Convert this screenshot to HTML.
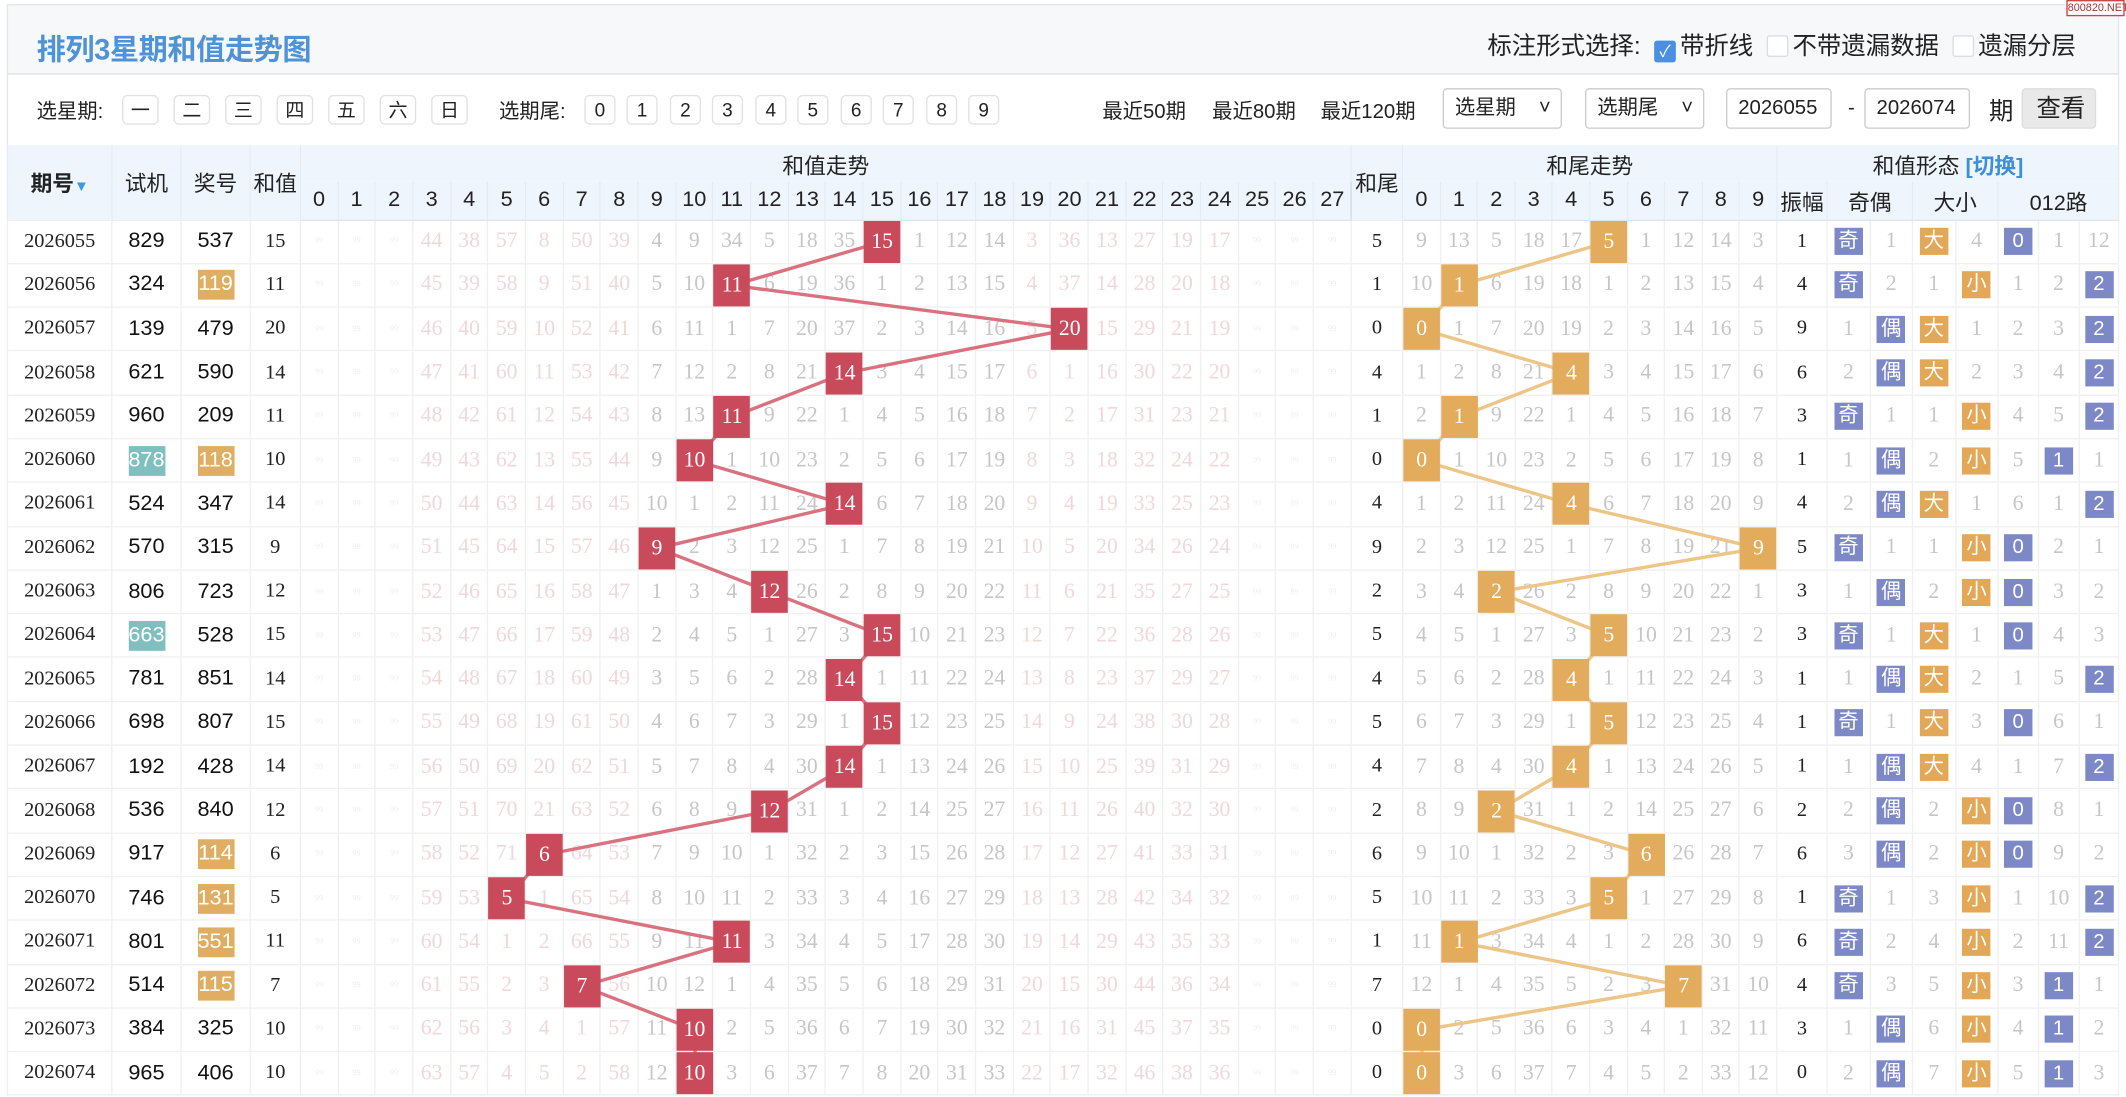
<!DOCTYPE html>
<html><head><meta charset="utf-8">
<style>
*{margin:0;padding:0;box-sizing:border-box}
html,body{width:2126px;height:1097px;overflow:hidden;background:#fff}
#w{position:absolute;left:0;top:0;width:1568px;height:809px;transform:scale(1.35587);transform-origin:0 0;font-family:"Liberation Sans","Noto Sans CJK SC",sans-serif;color:#222}
#hd{position:absolute;left:5px;top:3px;width:1558px;height:52px;background:#f7f8fa;border:1px solid #e4e6ea;border-bottom:1px solid #e0e0e0}
#ttl{position:absolute;left:21px;top:16px;font-size:21.5px;font-weight:bold;color:#4f93d6;letter-spacing:-0.3px}
#opt{position:absolute;left:1091px;top:16px;font-size:18px;color:#222;white-space:nowrap}
.cb{display:inline-block;width:16px;height:16px;border:1px solid #ddd;border-radius:2px;background:#fff;vertical-align:-2px;margin:0 3px 0 10px}
.cb.on{background:#4a8fe0;border-color:#4a8fe0;color:#fff;font-size:12px;line-height:15px;text-align:center}
#wm{position:absolute;left:1524px;top:0;width:43px;height:12px;border:1px solid #c44;color:#a33;font-size:8px;line-height:10px;text-align:center;background:#fff}
#tb{position:absolute;left:5px;top:55px;width:1558px;height:52px;border-left:1px solid #e4e6ea;border-right:1px solid #e4e6ea;font-size:15px}
#tb span{position:absolute;top:16px;white-space:nowrap}
.bt{position:absolute;top:15px;width:27px;height:22px;border:1px solid #e2e2e2;border-radius:4px;text-align:center;line-height:20px;font-size:14px;background:#fff}
.bt.n{width:23px}
.sel{position:absolute;top:10px;height:30px;border:1px solid #ccc;border-radius:3px;font-size:15px;line-height:28px;padding-left:8px;background:#fff}
#tbl{position:absolute;left:5px;top:107px;width:1558px;border-collapse:collapse;table-layout:fixed}
#tbl th{background:#eef5fc;font-weight:normal;font-size:16px;border:1px solid #e3ecf5;border-top:none;border-bottom:none;height:27px;padding:0;white-space:nowrap;overflow:hidden}
#tbl tr.h2 th{height:28px;border-bottom:1px solid #dde6ee}
#tbl td{height:32.3px;text-align:center;border:1px solid #f0f0f0;padding:0;font-size:16px;font-family:"Liberation Serif","Noto Serif CJK SC",serif;color:#c6c6c6;white-space:nowrap}
#tbl td.q{color:#222;font-size:15px}
#tbl td.k{color:#111;font-family:"Liberation Sans","Noto Sans CJK SC",sans-serif;font-size:16px}
#tbl td.s{color:#222;font-size:15px}
#tbl td.z{color:#222;font-size:15px}
#tbl td.a{color:#efd8da}
#tbl td.f{color:#eee;font-size:6px}
#tbl td.L{border-left:1px solid #cfcfcf}
tr.sep td{border-bottom:1px solid #c9c9c9}
b.r,b.o{display:block;position:relative;z-index:3;width:27px;height:31px;line-height:31px;margin:0 auto;color:#fff;font-weight:normal}
b.r{background:#c84a5b}
b.o{background:#e3ab5c}
i.p,i.y{display:inline-block;width:21px;height:20px;line-height:20px;color:#fff;font-style:normal;font-family:"Liberation Sans","Noto Sans CJK SC",sans-serif;font-size:15px}
i.p{background:#7d88c6}i.y{background:#e3a857}
span.hy{display:inline-block;width:27px;height:22px;line-height:22px;background:#dfae63;color:#fff}
span.ht{display:inline-block;width:27px;height:22px;line-height:22px;background:#7fbfbf;color:#fff}
svg{position:absolute;left:0;top:0;z-index:1;pointer-events:none}
</style></head><body><div id="w">
<div id="hd"><div id="ttl">排列3星期和值走势图</div>
<div id="opt">标注形式选择:<span class="cb on">✓</span>带折线<span class="cb"></span>不带遗漏数据<span class="cb"></span>遗漏分层</div></div>
<div id="wm">800820.NET</div>
<div id="tb">
<span style="left:21px">选星期:</span>
<div class="bt" style="left:84px">一</div><div class="bt" style="left:122px">二</div><div class="bt" style="left:160px">三</div><div class="bt" style="left:198px">四</div><div class="bt" style="left:236px">五</div><div class="bt" style="left:274px">六</div><div class="bt" style="left:312px">日</div>
<span style="left:362px">选期尾:</span>
<div class="bt n" style="left:425px">0</div><div class="bt n" style="left:456px">1</div><div class="bt n" style="left:488px">2</div><div class="bt n" style="left:519px">3</div><div class="bt n" style="left:551px">4</div><div class="bt n" style="left:582px">5</div><div class="bt n" style="left:614px">6</div><div class="bt n" style="left:645px">7</div><div class="bt n" style="left:677px">8</div><div class="bt n" style="left:708px">9</div>
<span style="left:807px">最近50期</span><span style="left:888px">最近80期</span><span style="left:968px">最近120期</span>
<div class="sel" style="left:1058px;width:88px">选星期 <span style="left:70px;top:0">˅</span></div>
<div class="sel" style="left:1163px;width:88px">选期尾 <span style="left:70px;top:0">˅</span></div>
<div class="sel" style="left:1267px;width:78px">2026055</div>
<span style="left:1357px">-</span>
<div class="sel" style="left:1369px;width:78px">2026074</div>
<span style="left:1461px;font-size:18px;top:13px">期</span>
<div class="sel" style="left:1485px;width:55px;background:#e9e9e9;border-color:#ddd;font-size:18px;padding-left:10px">查看</div>
</div>
<table id="tbl">
<colgroup><col style="width:77px"><col style="width:51px"><col style="width:51px"><col style="width:37px">
<col span="28" style="width:27.68px"><col style="width:38px"><col span="10" style="width:27.6px"><col style="width:37px"><col span="2" style="width:31.5px"><col span="2" style="width:31.5px"><col span="3" style="width:29.8px"></colgroup>
<tr><th rowspan="2" style="font-weight:bold">期号<span style="color:#3d9be0;font-size:11px">▼</span></th><th rowspan="2">试机</th><th rowspan="2">奖号</th><th rowspan="2">和值</th><th colspan="28">和值走势</th><th rowspan="2" style="border-left:1px solid #cfdbe6">和尾</th><th colspan="10" style="border-left:1px solid #cfdbe6">和尾走势</th><th colspan="8" style="border-left:1px solid #cfdbe6">和值形态 <span style="color:#3d8fd8;font-weight:bold">[切换]</span></th></tr>
<tr class="h2"><th>0</th><th>1</th><th>2</th><th>3</th><th>4</th><th>5</th><th>6</th><th>7</th><th>8</th><th style="border-left:1px solid #cfdbe6">9</th><th>10</th><th>11</th><th>12</th><th>13</th><th>14</th><th>15</th><th>16</th><th>17</th><th>18</th><th style="border-left:1px solid #cfdbe6">19</th><th>20</th><th>21</th><th>22</th><th>23</th><th>24</th><th>25</th><th>26</th><th>27</th><th style="border-left:1px solid #cfdbe6">0</th><th>1</th><th>2</th><th>3</th><th>4</th><th>5</th><th>6</th><th>7</th><th>8</th><th>9</th><th style="border-left:1px solid #cfdbe6">振幅</th><th colspan="2">奇偶</th><th colspan="2">大小</th><th colspan="3">012路</th></tr>
<tr><td class="q">2026055</td><td class="k">829</td><td class="k">537</td><td class="s">15</td><td class="f">99</td><td class="f">99</td><td class="f">99</td><td class="a">44</td><td class="a">38</td><td class="a">57</td><td class="a">8</td><td class="a">50</td><td class="a">39</td><td class="L">4</td><td>9</td><td>34</td><td>5</td><td>18</td><td>35</td><td><b class="r">15</b></td><td>1</td><td>12</td><td>14</td><td class="a L">3</td><td class="a">36</td><td class="a">13</td><td class="a">27</td><td class="a">19</td><td class="a">17</td><td class="f">99</td><td class="f">99</td><td class="f">99</td><td class="z L">5</td><td class="L">9</td><td>13</td><td>5</td><td>18</td><td>17</td><td><b class="o">5</b></td><td>1</td><td>12</td><td>14</td><td>3</td><td class="z L">1</td><td><i class="p">奇</i></td><td>1</td><td><i class="y">大</i></td><td>4</td><td><i class="p">0</i></td><td>1</td><td>12</td></tr>
<tr><td class="q">2026056</td><td class="k">324</td><td class="k"><span class="hy">119</span></td><td class="s">11</td><td class="f">99</td><td class="f">99</td><td class="f">99</td><td class="a">45</td><td class="a">39</td><td class="a">58</td><td class="a">9</td><td class="a">51</td><td class="a">40</td><td class="L">5</td><td>10</td><td><b class="r">11</b></td><td>6</td><td>19</td><td>36</td><td>1</td><td>2</td><td>13</td><td>15</td><td class="a L">4</td><td class="a">37</td><td class="a">14</td><td class="a">28</td><td class="a">20</td><td class="a">18</td><td class="f">99</td><td class="f">99</td><td class="f">99</td><td class="z L">1</td><td class="L">10</td><td><b class="o">1</b></td><td>6</td><td>19</td><td>18</td><td>1</td><td>2</td><td>13</td><td>15</td><td>4</td><td class="z L">4</td><td><i class="p">奇</i></td><td>2</td><td>1</td><td><i class="y">小</i></td><td>1</td><td>2</td><td><i class="p">2</i></td></tr>
<tr><td class="q">2026057</td><td class="k">139</td><td class="k">479</td><td class="s">20</td><td class="f">99</td><td class="f">99</td><td class="f">99</td><td class="a">46</td><td class="a">40</td><td class="a">59</td><td class="a">10</td><td class="a">52</td><td class="a">41</td><td class="L">6</td><td>11</td><td>1</td><td>7</td><td>20</td><td>37</td><td>2</td><td>3</td><td>14</td><td>16</td><td class="a L">5</td><td><b class="r">20</b></td><td class="a">15</td><td class="a">29</td><td class="a">21</td><td class="a">19</td><td class="f">99</td><td class="f">99</td><td class="f">99</td><td class="z L">0</td><td class="L"><b class="o">0</b></td><td>1</td><td>7</td><td>20</td><td>19</td><td>2</td><td>3</td><td>14</td><td>16</td><td>5</td><td class="z L">9</td><td>1</td><td><i class="p">偶</i></td><td><i class="y">大</i></td><td>1</td><td>2</td><td>3</td><td><i class="p">2</i></td></tr>
<tr><td class="q">2026058</td><td class="k">621</td><td class="k">590</td><td class="s">14</td><td class="f">99</td><td class="f">99</td><td class="f">99</td><td class="a">47</td><td class="a">41</td><td class="a">60</td><td class="a">11</td><td class="a">53</td><td class="a">42</td><td class="L">7</td><td>12</td><td>2</td><td>8</td><td>21</td><td><b class="r">14</b></td><td>3</td><td>4</td><td>15</td><td>17</td><td class="a L">6</td><td class="a">1</td><td class="a">16</td><td class="a">30</td><td class="a">22</td><td class="a">20</td><td class="f">99</td><td class="f">99</td><td class="f">99</td><td class="z L">4</td><td class="L">1</td><td>2</td><td>8</td><td>21</td><td><b class="o">4</b></td><td>3</td><td>4</td><td>15</td><td>17</td><td>6</td><td class="z L">6</td><td>2</td><td><i class="p">偶</i></td><td><i class="y">大</i></td><td>2</td><td>3</td><td>4</td><td><i class="p">2</i></td></tr>
<tr class="sep"><td class="q">2026059</td><td class="k">960</td><td class="k">209</td><td class="s">11</td><td class="f">99</td><td class="f">99</td><td class="f">99</td><td class="a">48</td><td class="a">42</td><td class="a">61</td><td class="a">12</td><td class="a">54</td><td class="a">43</td><td class="L">8</td><td>13</td><td><b class="r">11</b></td><td>9</td><td>22</td><td>1</td><td>4</td><td>5</td><td>16</td><td>18</td><td class="a L">7</td><td class="a">2</td><td class="a">17</td><td class="a">31</td><td class="a">23</td><td class="a">21</td><td class="f">99</td><td class="f">99</td><td class="f">99</td><td class="z L">1</td><td class="L">2</td><td><b class="o">1</b></td><td>9</td><td>22</td><td>1</td><td>4</td><td>5</td><td>16</td><td>18</td><td>7</td><td class="z L">3</td><td><i class="p">奇</i></td><td>1</td><td>1</td><td><i class="y">小</i></td><td>4</td><td>5</td><td><i class="p">2</i></td></tr>
<tr><td class="q">2026060</td><td class="k"><span class="ht">878</span></td><td class="k"><span class="hy">118</span></td><td class="s">10</td><td class="f">99</td><td class="f">99</td><td class="f">99</td><td class="a">49</td><td class="a">43</td><td class="a">62</td><td class="a">13</td><td class="a">55</td><td class="a">44</td><td class="L">9</td><td><b class="r">10</b></td><td>1</td><td>10</td><td>23</td><td>2</td><td>5</td><td>6</td><td>17</td><td>19</td><td class="a L">8</td><td class="a">3</td><td class="a">18</td><td class="a">32</td><td class="a">24</td><td class="a">22</td><td class="f">99</td><td class="f">99</td><td class="f">99</td><td class="z L">0</td><td class="L"><b class="o">0</b></td><td>1</td><td>10</td><td>23</td><td>2</td><td>5</td><td>6</td><td>17</td><td>19</td><td>8</td><td class="z L">1</td><td>1</td><td><i class="p">偶</i></td><td>2</td><td><i class="y">小</i></td><td>5</td><td><i class="p">1</i></td><td>1</td></tr>
<tr><td class="q">2026061</td><td class="k">524</td><td class="k">347</td><td class="s">14</td><td class="f">99</td><td class="f">99</td><td class="f">99</td><td class="a">50</td><td class="a">44</td><td class="a">63</td><td class="a">14</td><td class="a">56</td><td class="a">45</td><td class="L">10</td><td>1</td><td>2</td><td>11</td><td>24</td><td><b class="r">14</b></td><td>6</td><td>7</td><td>18</td><td>20</td><td class="a L">9</td><td class="a">4</td><td class="a">19</td><td class="a">33</td><td class="a">25</td><td class="a">23</td><td class="f">99</td><td class="f">99</td><td class="f">99</td><td class="z L">4</td><td class="L">1</td><td>2</td><td>11</td><td>24</td><td><b class="o">4</b></td><td>6</td><td>7</td><td>18</td><td>20</td><td>9</td><td class="z L">4</td><td>2</td><td><i class="p">偶</i></td><td><i class="y">大</i></td><td>1</td><td>6</td><td>1</td><td><i class="p">2</i></td></tr>
<tr><td class="q">2026062</td><td class="k">570</td><td class="k">315</td><td class="s">9</td><td class="f">99</td><td class="f">99</td><td class="f">99</td><td class="a">51</td><td class="a">45</td><td class="a">64</td><td class="a">15</td><td class="a">57</td><td class="a">46</td><td class="L"><b class="r">9</b></td><td>2</td><td>3</td><td>12</td><td>25</td><td>1</td><td>7</td><td>8</td><td>19</td><td>21</td><td class="a L">10</td><td class="a">5</td><td class="a">20</td><td class="a">34</td><td class="a">26</td><td class="a">24</td><td class="f">99</td><td class="f">99</td><td class="f">99</td><td class="z L">9</td><td class="L">2</td><td>3</td><td>12</td><td>25</td><td>1</td><td>7</td><td>8</td><td>19</td><td>21</td><td><b class="o">9</b></td><td class="z L">5</td><td><i class="p">奇</i></td><td>1</td><td>1</td><td><i class="y">小</i></td><td><i class="p">0</i></td><td>2</td><td>1</td></tr>
<tr><td class="q">2026063</td><td class="k">806</td><td class="k">723</td><td class="s">12</td><td class="f">99</td><td class="f">99</td><td class="f">99</td><td class="a">52</td><td class="a">46</td><td class="a">65</td><td class="a">16</td><td class="a">58</td><td class="a">47</td><td class="L">1</td><td>3</td><td>4</td><td><b class="r">12</b></td><td>26</td><td>2</td><td>8</td><td>9</td><td>20</td><td>22</td><td class="a L">11</td><td class="a">6</td><td class="a">21</td><td class="a">35</td><td class="a">27</td><td class="a">25</td><td class="f">99</td><td class="f">99</td><td class="f">99</td><td class="z L">2</td><td class="L">3</td><td>4</td><td><b class="o">2</b></td><td>26</td><td>2</td><td>8</td><td>9</td><td>20</td><td>22</td><td>1</td><td class="z L">3</td><td>1</td><td><i class="p">偶</i></td><td>2</td><td><i class="y">小</i></td><td><i class="p">0</i></td><td>3</td><td>2</td></tr>
<tr class="sep"><td class="q">2026064</td><td class="k"><span class="ht">663</span></td><td class="k">528</td><td class="s">15</td><td class="f">99</td><td class="f">99</td><td class="f">99</td><td class="a">53</td><td class="a">47</td><td class="a">66</td><td class="a">17</td><td class="a">59</td><td class="a">48</td><td class="L">2</td><td>4</td><td>5</td><td>1</td><td>27</td><td>3</td><td><b class="r">15</b></td><td>10</td><td>21</td><td>23</td><td class="a L">12</td><td class="a">7</td><td class="a">22</td><td class="a">36</td><td class="a">28</td><td class="a">26</td><td class="f">99</td><td class="f">99</td><td class="f">99</td><td class="z L">5</td><td class="L">4</td><td>5</td><td>1</td><td>27</td><td>3</td><td><b class="o">5</b></td><td>10</td><td>21</td><td>23</td><td>2</td><td class="z L">3</td><td><i class="p">奇</i></td><td>1</td><td><i class="y">大</i></td><td>1</td><td><i class="p">0</i></td><td>4</td><td>3</td></tr>
<tr><td class="q">2026065</td><td class="k">781</td><td class="k">851</td><td class="s">14</td><td class="f">99</td><td class="f">99</td><td class="f">99</td><td class="a">54</td><td class="a">48</td><td class="a">67</td><td class="a">18</td><td class="a">60</td><td class="a">49</td><td class="L">3</td><td>5</td><td>6</td><td>2</td><td>28</td><td><b class="r">14</b></td><td>1</td><td>11</td><td>22</td><td>24</td><td class="a L">13</td><td class="a">8</td><td class="a">23</td><td class="a">37</td><td class="a">29</td><td class="a">27</td><td class="f">99</td><td class="f">99</td><td class="f">99</td><td class="z L">4</td><td class="L">5</td><td>6</td><td>2</td><td>28</td><td><b class="o">4</b></td><td>1</td><td>11</td><td>22</td><td>24</td><td>3</td><td class="z L">1</td><td>1</td><td><i class="p">偶</i></td><td><i class="y">大</i></td><td>2</td><td>1</td><td>5</td><td><i class="p">2</i></td></tr>
<tr><td class="q">2026066</td><td class="k">698</td><td class="k">807</td><td class="s">15</td><td class="f">99</td><td class="f">99</td><td class="f">99</td><td class="a">55</td><td class="a">49</td><td class="a">68</td><td class="a">19</td><td class="a">61</td><td class="a">50</td><td class="L">4</td><td>6</td><td>7</td><td>3</td><td>29</td><td>1</td><td><b class="r">15</b></td><td>12</td><td>23</td><td>25</td><td class="a L">14</td><td class="a">9</td><td class="a">24</td><td class="a">38</td><td class="a">30</td><td class="a">28</td><td class="f">99</td><td class="f">99</td><td class="f">99</td><td class="z L">5</td><td class="L">6</td><td>7</td><td>3</td><td>29</td><td>1</td><td><b class="o">5</b></td><td>12</td><td>23</td><td>25</td><td>4</td><td class="z L">1</td><td><i class="p">奇</i></td><td>1</td><td><i class="y">大</i></td><td>3</td><td><i class="p">0</i></td><td>6</td><td>1</td></tr>
<tr><td class="q">2026067</td><td class="k">192</td><td class="k">428</td><td class="s">14</td><td class="f">99</td><td class="f">99</td><td class="f">99</td><td class="a">56</td><td class="a">50</td><td class="a">69</td><td class="a">20</td><td class="a">62</td><td class="a">51</td><td class="L">5</td><td>7</td><td>8</td><td>4</td><td>30</td><td><b class="r">14</b></td><td>1</td><td>13</td><td>24</td><td>26</td><td class="a L">15</td><td class="a">10</td><td class="a">25</td><td class="a">39</td><td class="a">31</td><td class="a">29</td><td class="f">99</td><td class="f">99</td><td class="f">99</td><td class="z L">4</td><td class="L">7</td><td>8</td><td>4</td><td>30</td><td><b class="o">4</b></td><td>1</td><td>13</td><td>24</td><td>26</td><td>5</td><td class="z L">1</td><td>1</td><td><i class="p">偶</i></td><td><i class="y">大</i></td><td>4</td><td>1</td><td>7</td><td><i class="p">2</i></td></tr>
<tr><td class="q">2026068</td><td class="k">536</td><td class="k">840</td><td class="s">12</td><td class="f">99</td><td class="f">99</td><td class="f">99</td><td class="a">57</td><td class="a">51</td><td class="a">70</td><td class="a">21</td><td class="a">63</td><td class="a">52</td><td class="L">6</td><td>8</td><td>9</td><td><b class="r">12</b></td><td>31</td><td>1</td><td>2</td><td>14</td><td>25</td><td>27</td><td class="a L">16</td><td class="a">11</td><td class="a">26</td><td class="a">40</td><td class="a">32</td><td class="a">30</td><td class="f">99</td><td class="f">99</td><td class="f">99</td><td class="z L">2</td><td class="L">8</td><td>9</td><td><b class="o">2</b></td><td>31</td><td>1</td><td>2</td><td>14</td><td>25</td><td>27</td><td>6</td><td class="z L">2</td><td>2</td><td><i class="p">偶</i></td><td>2</td><td><i class="y">小</i></td><td><i class="p">0</i></td><td>8</td><td>1</td></tr>
<tr class="sep"><td class="q">2026069</td><td class="k">917</td><td class="k"><span class="hy">114</span></td><td class="s">6</td><td class="f">99</td><td class="f">99</td><td class="f">99</td><td class="a">58</td><td class="a">52</td><td class="a">71</td><td><b class="r">6</b></td><td class="a">64</td><td class="a">53</td><td class="L">7</td><td>9</td><td>10</td><td>1</td><td>32</td><td>2</td><td>3</td><td>15</td><td>26</td><td>28</td><td class="a L">17</td><td class="a">12</td><td class="a">27</td><td class="a">41</td><td class="a">33</td><td class="a">31</td><td class="f">99</td><td class="f">99</td><td class="f">99</td><td class="z L">6</td><td class="L">9</td><td>10</td><td>1</td><td>32</td><td>2</td><td>3</td><td><b class="o">6</b></td><td>26</td><td>28</td><td>7</td><td class="z L">6</td><td>3</td><td><i class="p">偶</i></td><td>2</td><td><i class="y">小</i></td><td><i class="p">0</i></td><td>9</td><td>2</td></tr>
<tr><td class="q">2026070</td><td class="k">746</td><td class="k"><span class="hy">131</span></td><td class="s">5</td><td class="f">99</td><td class="f">99</td><td class="f">99</td><td class="a">59</td><td class="a">53</td><td><b class="r">5</b></td><td class="a">1</td><td class="a">65</td><td class="a">54</td><td class="L">8</td><td>10</td><td>11</td><td>2</td><td>33</td><td>3</td><td>4</td><td>16</td><td>27</td><td>29</td><td class="a L">18</td><td class="a">13</td><td class="a">28</td><td class="a">42</td><td class="a">34</td><td class="a">32</td><td class="f">99</td><td class="f">99</td><td class="f">99</td><td class="z L">5</td><td class="L">10</td><td>11</td><td>2</td><td>33</td><td>3</td><td><b class="o">5</b></td><td>1</td><td>27</td><td>29</td><td>8</td><td class="z L">1</td><td><i class="p">奇</i></td><td>1</td><td>3</td><td><i class="y">小</i></td><td>1</td><td>10</td><td><i class="p">2</i></td></tr>
<tr><td class="q">2026071</td><td class="k">801</td><td class="k"><span class="hy">551</span></td><td class="s">11</td><td class="f">99</td><td class="f">99</td><td class="f">99</td><td class="a">60</td><td class="a">54</td><td class="a">1</td><td class="a">2</td><td class="a">66</td><td class="a">55</td><td class="L">9</td><td>11</td><td><b class="r">11</b></td><td>3</td><td>34</td><td>4</td><td>5</td><td>17</td><td>28</td><td>30</td><td class="a L">19</td><td class="a">14</td><td class="a">29</td><td class="a">43</td><td class="a">35</td><td class="a">33</td><td class="f">99</td><td class="f">99</td><td class="f">99</td><td class="z L">1</td><td class="L">11</td><td><b class="o">1</b></td><td>3</td><td>34</td><td>4</td><td>1</td><td>2</td><td>28</td><td>30</td><td>9</td><td class="z L">6</td><td><i class="p">奇</i></td><td>2</td><td>4</td><td><i class="y">小</i></td><td>2</td><td>11</td><td><i class="p">2</i></td></tr>
<tr><td class="q">2026072</td><td class="k">514</td><td class="k"><span class="hy">115</span></td><td class="s">7</td><td class="f">99</td><td class="f">99</td><td class="f">99</td><td class="a">61</td><td class="a">55</td><td class="a">2</td><td class="a">3</td><td><b class="r">7</b></td><td class="a">56</td><td class="L">10</td><td>12</td><td>1</td><td>4</td><td>35</td><td>5</td><td>6</td><td>18</td><td>29</td><td>31</td><td class="a L">20</td><td class="a">15</td><td class="a">30</td><td class="a">44</td><td class="a">36</td><td class="a">34</td><td class="f">99</td><td class="f">99</td><td class="f">99</td><td class="z L">7</td><td class="L">12</td><td>1</td><td>4</td><td>35</td><td>5</td><td>2</td><td>3</td><td><b class="o">7</b></td><td>31</td><td>10</td><td class="z L">4</td><td><i class="p">奇</i></td><td>3</td><td>5</td><td><i class="y">小</i></td><td>3</td><td><i class="p">1</i></td><td>1</td></tr>
<tr><td class="q">2026073</td><td class="k">384</td><td class="k">325</td><td class="s">10</td><td class="f">99</td><td class="f">99</td><td class="f">99</td><td class="a">62</td><td class="a">56</td><td class="a">3</td><td class="a">4</td><td class="a">1</td><td class="a">57</td><td class="L">11</td><td><b class="r">10</b></td><td>2</td><td>5</td><td>36</td><td>6</td><td>7</td><td>19</td><td>30</td><td>32</td><td class="a L">21</td><td class="a">16</td><td class="a">31</td><td class="a">45</td><td class="a">37</td><td class="a">35</td><td class="f">99</td><td class="f">99</td><td class="f">99</td><td class="z L">0</td><td class="L"><b class="o">0</b></td><td>2</td><td>5</td><td>36</td><td>6</td><td>3</td><td>4</td><td>1</td><td>32</td><td>11</td><td class="z L">3</td><td>1</td><td><i class="p">偶</i></td><td>6</td><td><i class="y">小</i></td><td>4</td><td><i class="p">1</i></td><td>2</td></tr>
<tr><td class="q">2026074</td><td class="k">965</td><td class="k">406</td><td class="s">10</td><td class="f">99</td><td class="f">99</td><td class="f">99</td><td class="a">63</td><td class="a">57</td><td class="a">4</td><td class="a">5</td><td class="a">2</td><td class="a">58</td><td class="L">12</td><td><b class="r">10</b></td><td>3</td><td>6</td><td>37</td><td>7</td><td>8</td><td>20</td><td>31</td><td>33</td><td class="a L">22</td><td class="a">17</td><td class="a">32</td><td class="a">46</td><td class="a">38</td><td class="a">36</td><td class="f">99</td><td class="f">99</td><td class="f">99</td><td class="z L">0</td><td class="L"><b class="o">0</b></td><td>3</td><td>6</td><td>37</td><td>7</td><td>4</td><td>5</td><td>2</td><td>33</td><td>12</td><td class="z L">0</td><td>2</td><td><i class="p">偶</i></td><td>7</td><td><i class="y">小</i></td><td>5</td><td><i class="p">1</i></td><td>3</td></tr>
</table>
<svg width="1568" height="809" viewBox="0 0 1568 809">
<polyline fill="none" stroke="#d9717f" stroke-width="2.5" points="651,178.2 540.3,210.5 789.4,242.8 623.4,275.1 540.3,307.4 512.6,339.7 623.4,372 485,404.3 568,436.6 651,468.9 623.4,501.2 651,533.5 623.4,565.8 568,598.1 401.9,630.4 374.2,662.7 540.3,695 429.6,727.3 512.6,759.6 512.6,791.9"/>
<polyline fill="none" stroke="#ecc587" stroke-width="2.5" points="1186.8,178.2 1076.4,210.5 1048.8,242.8 1159.2,275.1 1076.4,307.4 1048.8,339.7 1159.2,372 1297.2,404.3 1104,436.6 1186.8,468.9 1159.2,501.2 1186.8,533.5 1159.2,565.8 1104,598.1 1214.4,630.4 1186.8,662.7 1076.4,695 1242,727.3 1048.8,759.6 1048.8,791.9"/>
</svg>
</div></body></html>
